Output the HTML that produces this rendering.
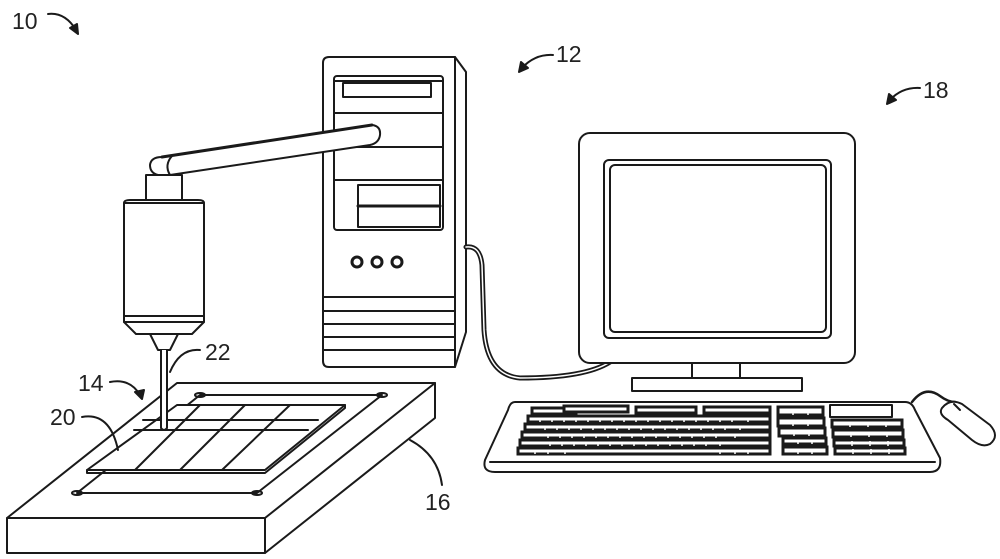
<!DOCTYPE html>
<html><head><meta charset="utf-8"><style>
html,body{margin:0;padding:0;background:#fff}
svg{display:block}
text{font-family:"Liberation Sans",sans-serif;font-size:23px;fill:#222}
</style></head><body>
<svg width="1000" height="559" viewBox="0 0 1000 559" xmlns="http://www.w3.org/2000/svg">
<g fill="none" stroke="#1a1a1a" stroke-width="2" stroke-linejoin="round" stroke-linecap="round">
<path d="M48 14 Q65 12 76 30"/><path d="M70 28 L78 34 L77 24 Z" fill="#1a1a1a"/>
<path d="M553 55 Q535 54 522 68"/><path d="M519 72 L521 62 L528 68 Z" fill="#1a1a1a"/>
<path d="M920 88 Q902 87 890 100"/><path d="M887 104 L889 94 L896 100 Z" fill="#1a1a1a"/>
<path d="M110 382 Q130 378 140 395"/><path d="M142 399 L135 392 L144 390 Z" fill="#1a1a1a"/>

<!-- tower -->
<path d="M323 63 Q323 57 329 57 L455 57 L466 72 L466 332 L455 367 L329 367 Q323 367 323 361 Z" fill="#fff"/>
<path d="M455 57 L455 367"/>
<rect x="334" y="76" width="109" height="154" rx="3"/>
<line x1="335" y1="81" x2="442" y2="81"/>
<line x1="334" y1="113" x2="443" y2="113"/>
<rect x="343" y="83" width="88" height="14"/>
<line x1="334" y1="147" x2="443" y2="147"/>
<line x1="334" y1="180" x2="443" y2="180"/>
<rect x="358" y="185" width="82" height="42"/>
<line x1="358" y1="206" x2="440" y2="206" stroke-width="3"/>
<g stroke-width="3"><circle cx="357" cy="262" r="5"/><circle cx="377" cy="262" r="5"/><circle cx="397" cy="262" r="5"/></g>
<line x1="323" y1="297" x2="455" y2="297"/>
<line x1="323" y1="311" x2="455" y2="311"/>
<line x1="323" y1="324" x2="455" y2="324"/>
<line x1="323" y1="337" x2="455" y2="337"/>
<line x1="323" y1="350" x2="455" y2="350"/>

<!-- arm -->
<path d="M162 157 L372 125 Q381 126 380 135 Q379 143 370 145 L170 175 L158 175 Q150 173 150 165 Q151 157 162 157 Z" fill="#fff"/>
<path d="M162 157 L372 125" stroke-width="3"/>
<path d="M172 156 Q164 165 170 175"/>
<rect x="146" y="175" width="36" height="25" fill="#fff"/>
<path d="M124 203 Q124 200 130 200 L198 200 Q204 200 204 203 L204 316 L124 316 Z" fill="#fff"/>
<line x1="124" y1="203" x2="204" y2="203"/>
<line x1="124" y1="316" x2="204" y2="316"/>
<path d="M124 322 L204 322 L192 334 L136 334 Z" fill="#fff"/>
<line x1="124" y1="316" x2="124" y2="322"/><line x1="204" y1="316" x2="204" y2="322"/>
<path d="M150 334 L178 334 L170 350 L158 350 Z" fill="#fff"/>

<!-- cable -->
<path d="M466 247 Q480 245 482 265 L484 330 Q487 375 520 378 Q585 378 610 362" stroke-width="5"/>
<path d="M466 247 Q480 245 482 265 L484 330 Q487 375 520 378 Q585 378 610 362" stroke="#fff" stroke-width="1.5"/>

<!-- monitor -->
<rect x="579" y="133" width="276" height="230" rx="11" fill="#fff"/>
<rect x="604" y="160" width="227" height="178" rx="5"/>
<rect x="610" y="165" width="216" height="167" rx="5"/>
<rect x="692" y="363" width="48" height="15"/>
<rect x="632" y="378" width="170" height="13"/>

<!-- keyboard -->
<path d="M515 402 L905 402 Q912 402 915 410 L940 458 Q942 472 930 472 L495 472 Q482 472 485 460 L508 410 Q510 402 515 402 Z" fill="#fff"/>
<path d="M490 462 L935 462"/>
<rect x="830" y="405" width="62" height="12"/>
</g>
<g fill="#fff" stroke="#1a1a1a" stroke-width="3">
<rect x="532" y="408" width="44" height="6"/><rect x="564" y="406" width="64" height="6"/><rect x="636" y="407" width="60" height="6"/><rect x="704" y="407" width="66" height="6"/>
<rect x="528" y="416" width="242" height="6"/>
<rect x="525" y="424" width="245" height="6"/>
<rect x="522" y="432" width="248" height="6"/>
<rect x="520" y="440" width="250" height="6"/>
<rect x="518" y="448" width="252" height="6"/>
<rect x="778" y="407" width="45" height="8"/><rect x="778" y="418" width="46" height="8"/><rect x="779" y="428" width="46" height="8"/>
<rect x="783" y="438" width="43" height="6"/><rect x="783" y="447" width="44" height="7"/>
<rect x="832" y="420" width="70" height="7"/><rect x="833" y="430" width="70" height="7"/><rect x="834" y="440" width="70" height="6"/><rect x="835" y="448" width="70" height="6"/>
</g>
<g stroke="#fff" stroke-width="1.5">
<path d="M540 419v3M552 419v3M564 419v3M576 419v3M588 419v3M600 419v3M612 419v3M624 419v3M636 419v3M648 419v3M660 419v3M672 419v3M684 419v3M696 419v3M708 419v3M720 419v3M732 419v3M748 419v3"/>
<path d="M545 427v3M557 427v3M569 427v3M581 427v3M593 427v3M605 427v3M617 427v3M629 427v3M641 427v3M653 427v3M665 427v3M677 427v3M689 427v3M701 427v3M713 427v3M725 427v3M740 427v3"/>
<path d="M548 435v3M560 435v3M572 435v3M584 435v3M596 435v3M608 435v3M620 435v3M632 435v3M644 435v3M656 435v3M668 435v3M680 435v3M692 435v3M704 435v3M716 435v3M735 435v3"/>
<path d="M550 443v3M562 443v3M574 443v3M586 443v3M598 443v3M610 443v3M622 443v3M634 443v3M646 443v3M658 443v3M670 443v3M682 443v3M694 443v3M706 443v3M720 443v3"/>
<path d="M535 451v3M548 451v3M565 451v3M720 451v3M735 451v3M748 451v3"/>
<path d="M793 409v6M808 409v6M793 420v6M808 420v6M794 430v6M809 430v6M798 440v4M812 440v4M798 449v5M812 449v5"/>
<path d="M850 422v5M868 422v5M886 422v5M851 432v5M869 432v5M887 432v5M852 441v5M870 441v5M888 441v5M853 449v5M871 449v5M889 449v5"/>
</g>
<g fill="none" stroke="#1a1a1a" stroke-width="2" stroke-linejoin="round" stroke-linecap="round">
<path d="M912 402 Q925 385 940 396 Q948 402 955 402" stroke-width="2.5"/>
<path d="M942 408 Q950 398 962 404 L990 425 Q1000 436 990 444 Q982 448 972 440 L948 420 Q938 414 942 408 Z" fill="#fff"/>
<path d="M954 404 L960 410"/>

<!-- platform -->
<path d="M7 518 L177 383 L435 383 L265 518 Z" fill="#fff"/>
<path d="M7 518 L7 553 L265 553 L265 518"/>
<path d="M265 553 L435 418 L435 383"/>
<path d="M200 395 L382 395 L257 493 L77 493 Z"/>
<ellipse cx="200" cy="395" rx="5" ry="2"/><ellipse cx="382" cy="395" rx="5" ry="2"/>
<ellipse cx="257" cy="493" rx="5" ry="2"/><ellipse cx="77" cy="493" rx="5" ry="2"/>
<path d="M177 405 L345 405 L265 470 L87 470 Z" fill="#fff"/>
<path d="M87 470 L87 473 L265 473 L345 408 L345 405"/>
<path d="M143 420 L318 420 M134 430 L308 430"/>
<path d="M135 470 L200 405 M180 470 L245 405 M222 470 L290 405"/>
<!-- needle on top -->
<path d="M161 350 L161 428 Q164 432 167 428 L167 350" fill="#fff"/>
<!-- leaders -->
<path d="M82 417 Q110 412 118 450"/>
<path d="M200 350 Q180 348 170 372"/>
<path d="M442 485 Q438 455 410 440"/>
</g>
<text x="12" y="29">10</text>
<text x="556" y="62">12</text>
<text x="923" y="98">18</text>
<text x="78" y="391">14</text>
<text x="50" y="425">20</text>
<text x="205" y="360">22</text>
<text x="425" y="510">16</text>
</svg>
</body></html>
